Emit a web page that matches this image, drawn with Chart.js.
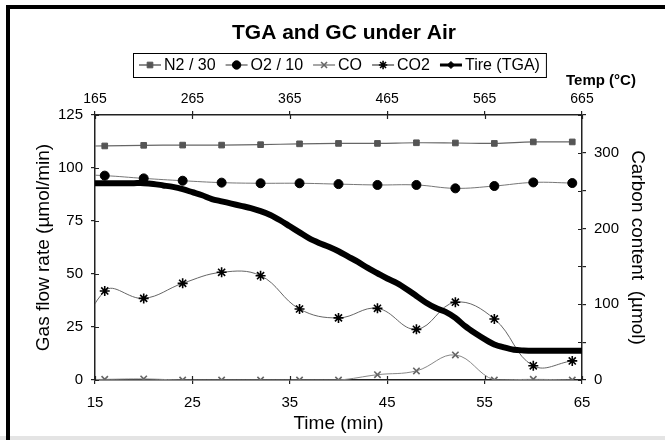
<!DOCTYPE html>
<html>
<head>
<meta charset="utf-8">
<script src="https://cdn.jsdelivr.net/npm/chart.js@4.4.0/dist/chart.umd.min.js"></script>
<style>
  html, body { margin: 0; padding: 0; background: #fff; }
  #wrap { width: 665px; height: 440px; }
</style>
</head>
<body>
<div id="wrap"><canvas id="chart" width="665" height="440"></canvas></div>
<script>
// values

// axis ticks
const timeTicks = [15, 25, 35, 45, 55, 65];
const tempTicks = [165, 265, 365, 465, 565, 665];
const flowTicks = [0, 25, 50, 75, 100, 125];
const carbonTicks = [0, 50, 100, 150, 200, 250, 300, 350];
const carbonLabelled = [0, 100, 200, 300];

// GC sampling times (min), first one sits left of the axis and gets clipped
const gcTimes = [12, 16, 20, 24, 28, 32, 36, 40, 44, 48, 52, 56, 60, 64];
const n2Flow = [110.3, 110.4, 110.7, 110.8, 110.8, 111.0, 111.4, 111.6, 111.6, 111.9, 111.8, 111.6, 112.3, 112.3];
const o2Flow = [97.0, 96.4, 95.1, 94.0, 93.1, 92.8, 92.8, 92.4, 92.0, 92.0, 90.4, 91.5, 93.2, 92.9];
const coFlow = [0, 0.3, 0.5, 0, 0, 0, 0, 0, 2.5, 4.3, 11.8, 0, 0.3, 0];
const co2Flow = [0, 42.0, 38.5, 45.6, 50.8, 49.2, 33.5, 29.3, 33.8, 23.9, 36.7, 28.8, 6.7, 9.0];

// TGA trace (carbon content, umol)
const tgaTimes = [15, 16, 17, 18, 19, 20, 21, 22, 23, 24, 25, 26, 27, 28, 29, 30, 31, 32, 33, 34, 35,
  36, 37, 38, 39, 40, 41, 42, 43, 44, 45, 46, 47, 48, 49, 50, 51, 52, 53, 54, 55, 56, 57, 58, 59, 60,
  61, 62, 63, 64, 65];
const tgaCarbon = [260, 260, 260, 260, 260, 260, 259, 257, 255, 252, 248, 244, 239, 236, 233, 230, 227, 223, 218, 211, 203,
  195, 187, 181, 176, 170, 163, 156, 148, 141, 134, 128, 120, 111, 102, 95, 90, 82, 71, 62, 54, 47, 43, 40, 39, 38.5,
  38.5, 38.5, 38.5, 38.5, 38.5];

const FONT = "'Liberation Sans', Arial, sans-serif";
const AXIS = '#222';

function pts(xs, ys) {
    return xs.map((x, i) => ({ x: x, y: ys[i] }));
}

const datasets = [
    {
        label: 'N2 / 30',
        data: pts(gcTimes, n2Flow),
        borderColor: '#666', borderWidth: 1.2,
        pointStyle: 'rect', pointRadius: 4, pointBackgroundColor: '#555', pointBorderColor: '#555', pointBorderWidth: 1,
        tension: 0.4, order: 1
    },
    {
        label: 'O2 / 10',
        data: pts(gcTimes, o2Flow),
        borderColor: '#777', borderWidth: 1,
        pointStyle: 'circle', pointRadius: 4.5, pointBackgroundColor: '#000', pointBorderColor: '#000', pointBorderWidth: 1,
        tension: 0.4, order: 1
    },
    {
        label: 'CO',
        data: pts(gcTimes, coFlow),
        borderColor: '#888', borderWidth: 1,
        pointStyle: 'crossRot', pointRadius: 4.5, pointBackgroundColor: '#666', pointBorderColor: '#666', pointBorderWidth: 1.6,
        tension: 0.4, order: 1
    },
    {
        label: 'CO2',
        data: pts(gcTimes, co2Flow),
        borderColor: '#666', borderWidth: 1,
        pointStyle: 'star', pointRadius: 5, pointBackgroundColor: '#000', pointBorderColor: '#000', pointBorderWidth: 1.6,
        tension: 0.4, order: 1
    },
    {
        label: 'Tire (TGA)',
        data: pts(tgaTimes, tgaCarbon),
        yAxisID: 'y2',
        borderColor: '#000', borderWidth: 6,
        pointRadius: 0, tension: 0.3, order: 0,
        legendStyle: 'rectRot'
    }
];

// white page, thick frame top/left, grey strip at the bottom
const framePlugin = {
    id: 'frame',
    beforeDraw(chart) {
        const ctx = chart.ctx;
        ctx.save();
        ctx.fillStyle = '#fff';
        ctx.fillRect(0, 0, chart.width, chart.height);
        ctx.fillStyle = '#e4e4e4';
        ctx.fillRect(0, 436, chart.width, 4);
        ctx.strokeStyle = '#000';
        ctx.lineWidth = 4;
        ctx.beginPath();
        ctx.moveTo(8, 440);
        ctx.lineTo(8, 7);
        ctx.lineTo(665, 7);
        ctx.stroke();
        ctx.restore();
    }
};

// tick marks cross the axis lines, draw the inner half
const innerTicks = {
    id: 'innerTicks',
    afterDraw(chart) {
        const { ctx, chartArea: a } = chart;
        ctx.save();
        ctx.strokeStyle = AXIS;
        ctx.lineWidth = 1.2;
        ctx.beginPath();
        Object.values(chart.scales).forEach(s => {
            s.ticks.forEach(t => {
                const p = Math.round(s.getPixelForValue(t.value)) + 0.5;
                if (s.position === 'bottom') { ctx.moveTo(p, a.bottom); ctx.lineTo(p, a.bottom - 4); }
                if (s.position === 'top') { ctx.moveTo(p, a.top); ctx.lineTo(p, a.top + 4); }
                if (s.position === 'left') { ctx.moveTo(a.left, p); ctx.lineTo(a.left + 4, p); }
                if (s.position === 'right') { ctx.moveTo(a.right, p); ctx.lineTo(a.right - 4, p); }
            });
        });
        ctx.stroke();
        ctx.restore();
    }
};

// title, boxed legend with line+marker samples, temperature axis caption
const headerPlugin = {
    id: 'header',
    afterDraw(chart) {
        const ctx = chart.ctx;
        ctx.save();
        ctx.fillStyle = '#000';
        ctx.textBaseline = 'middle';

        ctx.font = 'bold 21px ' + FONT;
        ctx.textAlign = 'center';
        ctx.fillText('TGA and GC under Air', 344, 33);

        ctx.font = 'bold 15px ' + FONT;
        ctx.textAlign = 'left';
        ctx.fillText('Temp (\u00B0C)', 566, 81);

        // legend
        ctx.font = '16px ' + FONT;
        const boxL = 133, boxT = 53, boxH = 24, pad = 6, gap = 10, sample = 22;
        const cy = boxT + boxH / 2;
        let x = boxL + pad;
        chart.data.datasets.forEach((ds, i) => {
            ctx.strokeStyle = ds.borderColor;
            ctx.lineWidth = ds.borderWidth > 2 ? 3 : 1.5;
            ctx.beginPath();
            ctx.moveTo(x, cy);
            ctx.lineTo(x + sample, cy);
            ctx.stroke();
            ctx.fillStyle = ds.legendStyle ? '#000' : ds.pointBackgroundColor;
            ctx.strokeStyle = ds.legendStyle ? '#000' : ds.pointBorderColor;
            ctx.lineWidth = ds.pointBorderWidth || 1;
            Chart.helpers.drawPoint(ctx, {
                pointStyle: ds.legendStyle || ds.pointStyle,
                radius: ds.legendStyle ? 3.5 : Math.min(ds.pointRadius, 4.2),
                rotation: 0,
                borderWidth: ds.pointBorderWidth || 1
            }, x + sample / 2, cy);
            ctx.fillStyle = '#000';
            ctx.fillText(ds.label, x + sample + 3, cy + 1);
            x += sample + 3 + ctx.measureText(ds.label).width;
            if (i < chart.data.datasets.length - 1) x += gap;
        });
        ctx.strokeStyle = '#000';
        ctx.lineWidth = 1;
        ctx.strokeRect(boxL + 0.5, boxT + 0.5, x + pad - boxL, boxH);
        ctx.restore();
    }
};

function axisBase(extra) {
    return Object.assign({
        border: { display: true, color: AXIS, width: 1.5 },
        grid: { display: true, drawOnChartArea: false, drawTicks: true, tickLength: 4, color: AXIS, lineWidth: 1.2 }
    }, extra);
}

new Chart(document.getElementById('chart'), {
    type: 'line',
    data: { datasets: datasets },
    options: {
        responsive: false,
        animation: false,
        events: [],
        layout: { padding: 0 },
        plugins: {
            legend: { display: false },
            tooltip: { enabled: false },
            title: { display: false }
        },
        scales: {
            x: axisBase({
                type: 'linear', position: 'bottom', min: 15, max: 65,
                afterBuildTicks: s => { s.ticks = timeTicks.map(v => ({ value: v })); },
                afterFit: s => { s.height = 60; },
                ticks: { color: '#000', font: { family: FONT, size: 15 }, padding: 10, maxRotation: 0 },
                title: { display: true, text: 'Time (min)', color: '#000', font: { family: FONT, size: 19 }, padding: { top: 0, bottom: 5 } }
            }),
            xTop: axisBase({
                type: 'linear', position: 'top', axis: 'x', min: 165, max: 665,
                afterBuildTicks: s => { s.ticks = tempTicks.map(v => ({ value: v })); },
                afterFit: s => { s.height = 115; },
                ticks: { color: '#000', font: { family: FONT, size: 14 }, padding: 3, maxRotation: 0 }
            }),
            y: axisBase({
                type: 'linear', position: 'left', min: 0, max: 125,
                afterBuildTicks: s => { s.ticks = flowTicks.map(v => ({ value: v })); },
                afterFit: s => { s.width = 95; },
                ticks: { color: '#000', font: { family: FONT, size: 15 }, padding: 8 },
                title: { display: true, text: 'Gas flow rate (\u00B5mol/min)', color: '#000', font: { family: FONT, size: 19 }, padding: { top: 32, bottom: 0 } }
            }),
            y2: axisBase({
                type: 'linear', position: 'right', min: 0, max: 350,
                afterBuildTicks: s => { s.ticks = carbonTicks.map(v => ({ value: v })); },
                afterFit: s => { s.width = 83; },
                ticks: {
                    color: '#000', font: { family: FONT, size: 15 }, padding: 8,
                    callback: v => carbonLabelled.includes(v) ? String(v) : ''
                },
                title: { display: true, text: 'Carbon content  (\u00B5mol)', color: '#000', font: { family: FONT, size: 19 }, padding: { top: 16, bottom: 0 } }
            })
        }
    },
    plugins: [framePlugin, innerTicks, headerPlugin]
});
</script>
</body>
</html>
